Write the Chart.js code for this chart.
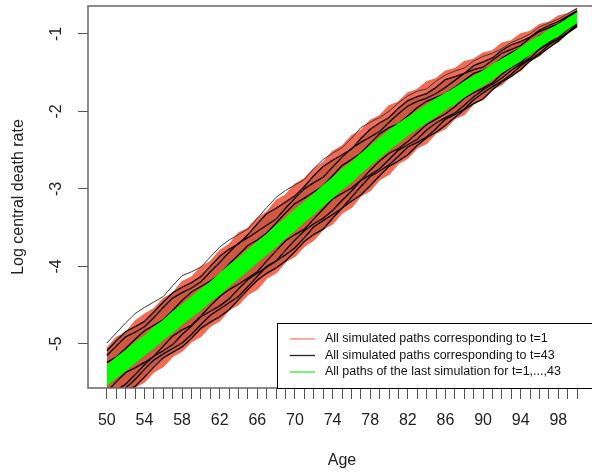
<!DOCTYPE html>
<html>
<head>
<meta charset="utf-8">
<script src="https://cdn.jsdelivr.net/npm/chart.js@4.4.1/dist/chart.umd.min.js"></script>
<style>
    body { margin: 0; overflow: hidden; background: #fff; }
    #wrap { width: 600px; height: 476px; }
</style>
</head>
<body>
<div id="wrap"><canvas id="grafico" width="600" height="476"></canvas></div>
<script>
const idades = [50, 51, 52, 53, 54, 55, 56, 57, 58, 59, 60, 61, 62, 63, 64, 65, 66, 67, 68, 69, 70,
    71, 72, 73, 74, 75, 76, 77, 78, 79, 80, 81, 82, 83, 84, 85, 86, 87, 88, 89, 90,
    91, 92, 93, 94, 95, 96, 97, 98, 99, 100];

const rotulosX = [50, 54, 58, 62, 66, 70, 74, 78, 82, 86, 90, 94, 98];
const rotulosY = [-5, -4, -3, -2, -1];

// envelope of the t=1 paths (red)
const vermelhoSup = [-5.06, -4.92, -4.86, -4.71, -4.62, -4.55, -4.42, -4.35, -4.20, -4.14, -4.01,
    -3.94, -3.80, -3.72, -3.57, -3.51, -3.38, -3.30, -3.15, -3.08, -2.94,
    -2.87, -2.74, -2.66, -2.52, -2.45, -2.32, -2.25, -2.12, -2.06, -1.93,
    -1.88, -1.76, -1.72, -1.62, -1.58, -1.48, -1.45, -1.36, -1.33, -1.25,
    -1.22, -1.12, -1.09, -1.00, -0.97, -0.88, -0.85, -0.77, -0.74, -0.67];
const vermelhoInf = [-5.86, -5.74, -5.67, -5.56, -5.49, -5.36, -5.29, -5.16, -5.09, -4.97, -4.90,
    -4.77, -4.70, -4.56, -4.49, -4.36, -4.29, -4.15, -4.08, -3.94, -3.87,
    -3.74, -3.66, -3.52, -3.45, -3.31, -3.24, -3.09, -3.02, -2.88, -2.81,
    -2.67, -2.60, -2.47, -2.41, -2.28, -2.22, -2.09, -2.04, -1.90, -1.84,
    -1.71, -1.65, -1.53, -1.47, -1.34, -1.28, -1.16, -1.10, -0.98, -0.91];

// some of the t=43 paths (black)
const preto1 = [-5.15, -5.03, -4.91, -4.85, -4.78, -4.66, -4.53, -4.41, -4.34, -4.28, -4.20,
    -4.07, -3.95, -3.82, -3.70, -3.63, -3.55, -3.47, -3.39, -3.25, -3.12,
    -3.00, -2.92, -2.85, -2.72, -2.59, -2.48, -2.40, -2.33, -2.26, -2.14,
    -2.03, -1.93, -1.87, -1.83, -1.77, -1.69, -1.60, -1.51, -1.46, -1.43,
    -1.34, -1.25, -1.20, -1.15, -1.05, -0.97, -0.92, -0.87, -0.78, -0.72];
const preto2 = [-5.24, -5.17, -5.06, -4.94, -4.83, -4.76, -4.69, -4.57, -4.44, -4.33, -4.26,
    -4.19, -4.11, -3.97, -3.85, -3.73, -3.66, -3.57, -3.44, -3.31, -3.19,
    -3.12, -3.04, -2.96, -2.83, -2.70, -2.62, -2.54, -2.41, -2.29, -2.21,
    -2.16, -2.06, -1.95, -1.87, -1.82, -1.77, -1.69, -1.60, -1.51, -1.47,
    -1.41, -1.31, -1.24, -1.18, -1.12, -1.02, -0.96, -0.88, -0.83, -0.75];
const preto3 = [-5.62, -5.49, -5.37, -5.31, -5.24, -5.16, -5.03, -4.90, -4.82, -4.76, -4.64,
    -4.51, -4.39, -4.30, -4.23, -4.15, -4.07, -3.93, -3.80, -3.67, -3.59,
    -3.52, -3.39, -3.26, -3.13, -3.06, -2.99, -2.89, -2.76, -2.64, -2.54,
    -2.48, -2.39, -2.28, -2.17, -2.10, -2.03, -1.94, -1.83, -1.76, -1.70,
    -1.63, -1.52, -1.43, -1.37, -1.26, -1.18, -1.11, -1.01, -0.93, -0.85];
const preto4 = [-5.72, -5.64, -5.57, -5.46, -5.33, -5.21, -5.13, -5.06, -4.99, -4.88, -4.75,
    -4.63, -4.55, -4.47, -4.39, -4.26, -4.13, -4.00, -3.93, -3.85, -3.76,
    -3.63, -3.49, -3.41, -3.33, -3.25, -3.11, -2.97, -2.84, -2.77, -2.69,
    -2.58, -2.46, -2.40, -2.33, -2.22, -2.10, -2.04, -1.97, -1.85, -1.76,
    -1.68, -1.61, -1.52, -1.41, -1.33, -1.25, -1.14, -1.07, -0.98, -0.88];
const preto5 = [-4.99, -4.86, -4.73, -4.61, -4.53, -4.46, -4.39, -4.25, -4.12, -4.07, -4.01,
    -3.88, -3.75, -3.66, -3.59, -3.52, -3.38, -3.24, -3.11, -3.02, -2.95,
    -2.88, -2.74, -2.62, -2.54, -2.47, -2.35, -2.21, -2.14, -2.08, -2.00,
    -1.89, -1.80, -1.74, -1.71, -1.61, -1.53, -1.48, -1.44, -1.35, -1.29,
    -1.25, -1.19, -1.11, -1.06, -1.00, -0.91, -0.86, -0.81, -0.74, -0.67];
const preto6 = [-5.09, -4.96, -4.84, -4.78, -4.71, -4.59, -4.46, -4.34, -4.27, -4.21, -4.13,
    -4.00, -3.87, -3.78, -3.71, -3.59, -3.45, -3.32, -3.25, -3.17, -3.09,
    -2.97, -2.83, -2.71, -2.63, -2.56, -2.49, -2.35, -2.23, -2.15, -2.08,
    -1.96, -1.86, -1.81, -1.77, -1.69, -1.59, -1.55, -1.51, -1.41, -1.36,
    -1.31, -1.21, -1.14, -1.10, -1.04, -0.95, -0.89, -0.84, -0.77, -0.70];
const preto7 = [-5.67, -5.60, -5.52, -5.40, -5.27, -5.16, -5.09, -5.01, -4.88, -4.77, -4.65,
    -4.58, -4.51, -4.42, -4.29, -4.17, -4.09, -4.01, -3.93, -3.79, -3.66,
    -3.54, -3.45, -3.38, -3.28, -3.15, -3.03, -2.89, -2.82, -2.74, -2.62,
    -2.50, -2.43, -2.36, -2.24, -2.15, -2.08, -2.02, -1.92, -1.81, -1.72,
    -1.65, -1.57, -1.47, -1.39, -1.31, -1.20, -1.12, -1.05, -0.94, -0.87];
const preto8 = [-5.82, -5.69, -5.61, -5.55, -5.43, -5.30, -5.18, -5.11, -5.04, -4.93, -4.80,
    -4.72, -4.65, -4.56, -4.43, -4.30, -4.18, -4.09, -4.02, -3.93, -3.81,
    -3.68, -3.59, -3.52, -3.38, -3.25, -3.16, -3.08, -2.96, -2.83, -2.71,
    -2.64, -2.56, -2.44, -2.34, -2.27, -2.18, -2.08, -1.98, -1.90, -1.84,
    -1.72, -1.62, -1.55, -1.46, -1.35, -1.27, -1.18, -1.09, -0.99, -0.90];

// band of the last simulation (green)
const verdeSup = [-5.29, -5.18, -5.09, -4.99, -4.90, -4.79, -4.70, -4.59, -4.50, -4.40, -4.30,
    -4.21, -4.10, -3.99, -3.90, -3.79, -3.69, -3.59, -3.48, -3.38, -3.27,
    -3.17, -3.07, -2.96, -2.86, -2.75, -2.66, -2.55, -2.45, -2.35, -2.25,
    -2.16, -2.08, -2.00, -1.92, -1.84, -1.77, -1.70, -1.62, -1.55, -1.48,
    -1.40, -1.33, -1.26, -1.18, -1.10, -1.03, -0.95, -0.88, -0.81, -0.73];
const verdeInf = [-5.53, -5.43, -5.34, -5.24, -5.14, -5.05, -4.94, -4.85, -4.74, -4.65, -4.56,
    -4.45, -4.36, -4.25, -4.15, -4.05, -3.94, -3.84, -3.74, -3.63, -3.53,
    -3.42, -3.32, -3.21, -3.11, -3.00, -2.91, -2.79, -2.69, -2.59, -2.49,
    -2.40, -2.30, -2.22, -2.14, -2.06, -1.97, -1.90, -1.81, -1.73, -1.66,
    -1.58, -1.49, -1.42, -1.34, -1.26, -1.17, -1.09, -1.02, -0.93, -0.85];

const legendas = [
    'All simulated paths corresponding to t=1',
    'All simulated paths corresponding to t=43',
    'All paths of the last simulation for t=1,...,43'
];
const coresLegenda = ['#F8806E', '#222222', '#2BF02B'];

const FONTE = '"Liberation Sans", Arial, sans-serif';

function serie(valores) {
    return idades.map((x, i) => ({ x, y: valores[i] }));
}

function linha(valores, cor, largura, ordem, extra) {
    return Object.assign({
        data: serie(valores),
        borderColor: cor,
        borderWidth: largura,
        pointRadius: 0,
        tension: 0,
        fill: false,
        order: ordem
    }, extra || {});
}

// index 9 is preto8: the dense middle of the t=43 paths is shaded darker
const datasets = [
    linha(verdeSup, '#00FF00', 1.5, 1, { fill: '+1', backgroundColor: '#00FF00' }),
    linha(verdeInf, '#00FF00', 1.5, 1),
    linha(preto1, '#000000', 1.3, 5),
    linha(preto2, '#000000', 1.3, 5),
    linha(preto3, '#000000', 1.3, 5),
    linha(preto4, '#000000', 1.3, 5),
    linha(preto5, '#3a3a3a', 1, 5),
    linha(preto6, '#000000', 1.3, 6, { fill: 9, backgroundColor: '#CF5843' }),
    linha(preto7, '#000000', 1.3, 5),
    linha(preto8, '#000000', 1.3, 5),
    linha(vermelhoSup, '#F26B55', 1.5, 10, { fill: '+1', backgroundColor: '#F26B55' }),
    linha(vermelhoInf, '#F26B55', 1.5, 10)
];

// box, rotated y labels and the legend, drawn the way R does it
const estiloR = {
    id: 'estiloR',
    afterDraw(chart) {
        const { ctx, chartArea: a, scales } = chart;
        ctx.save();
        ctx.strokeStyle = '#666';
        ctx.lineWidth = 1.5;
        ctx.strokeRect(a.left, a.top, a.right - a.left, a.bottom - a.top);

        ctx.fillStyle = '#222';
        ctx.font = '16px ' + FONTE;
        ctx.textAlign = 'center';
        ctx.textBaseline = 'middle';
        rotulosY.forEach(v => {
            const y = scales.y.getPixelForValue(v);
            ctx.save();
            ctx.translate(57, y);
            ctx.rotate(-Math.PI / 2);
            ctx.fillText(String(v), 0, 0);
            ctx.restore();
        });

        // legend
        const lx = 277, ly = 323;
        ctx.fillStyle = '#fff';
        ctx.fillRect(lx, ly, 600 - lx, a.bottom - ly);
        ctx.strokeStyle = '#000';
        ctx.lineWidth = 1;
        ctx.strokeRect(lx + 0.5, ly + 0.5, 600 - lx, a.bottom - ly);
        ctx.font = '12.5px ' + FONTE;
        ctx.textAlign = 'left';
        legendas.forEach((txt, i) => {
            const y = ly + 16 + i * 16.5;
            ctx.strokeStyle = coresLegenda[i];
            ctx.lineWidth = 1.3;
            ctx.beginPath();
            ctx.moveTo(290, y);
            ctx.lineTo(315, y);
            ctx.stroke();
            ctx.fillStyle = '#111';
            ctx.fillText(txt, 325, y);
        });
        ctx.restore();
    }
};

new Chart(document.getElementById('grafico').getContext('2d'), {
    type: 'line',
    data: { datasets },
    plugins: [estiloR],
    options: {
        responsive: false,
        animation: false,
        layout: { padding: { top: 6, right: 4, left: 0, bottom: 0 } },
        plugins: {
            legend: { display: false },
            tooltip: { enabled: false }
        },
        scales: {
            x: {
                type: 'linear',
                min: 48,
                max: 102,
                afterBuildTicks: s => { s.ticks = idades.map(v => ({ value: v })); },
                afterFit: s => { s.height = 88; },
                ticks: {
                    autoSkip: false,
                    maxRotation: 0,
                    minRotation: 0,
                    padding: 12,
                    color: '#222',
                    font: { family: FONTE, size: 16 },
                    callback: v => rotulosX.includes(v) ? String(v) : ''
                },
                grid: { drawOnChartArea: false, drawTicks: true, tickLength: 11, color: '#555' },
                border: { display: false },
                title: {
                    display: true,
                    text: 'Age',
                    color: '#222',
                    font: { family: FONTE, size: 16 },
                    padding: { top: 0, bottom: 6 }
                }
            },
            y: {
                type: 'linear',
                min: -5.57,
                max: -0.64,
                afterBuildTicks: s => { s.ticks = rotulosY.map(v => ({ value: v })); },
                afterFit: s => { s.width = 88; },
                ticks: { display: false },
                grid: { drawOnChartArea: false, drawTicks: true, tickLength: 10, color: '#555' },
                border: { display: false },
                title: {
                    display: true,
                    text: 'Log central death rate',
                    color: '#222',
                    font: { family: FONTE, size: 16 },
                    padding: { top: 9, bottom: 0 }
                }
            }
        }
    }
});
</script>
</body>
</html>
